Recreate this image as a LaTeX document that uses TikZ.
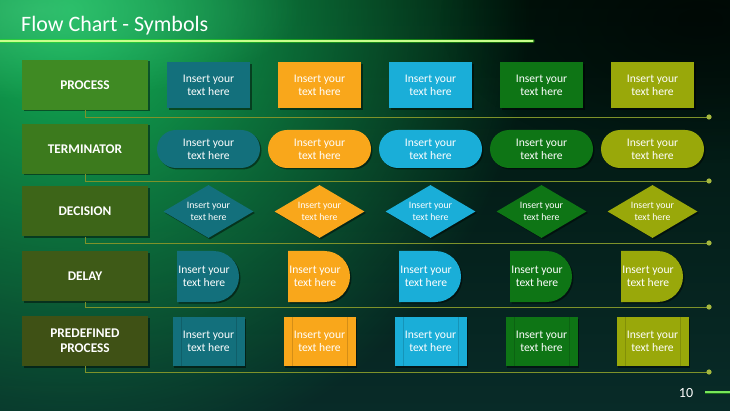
\documentclass[tikz,border=0pt]{standalone}
\usepackage{fontspec}
\setmainfont{Carlito}
\usetikzlibrary{shapes.geometric,shadows,fadings}
\definecolor{cTeal}{HTML}{13707C}
\definecolor{cOrange}{HTML}{F9A71B}
\definecolor{cCyan}{HTML}{1AAED8}
\definecolor{cGreen}{HTML}{0E7515}
\definecolor{cOlive}{HTML}{99A80A}
\definecolor{bgTop}{HTML}{00130B}
\definecolor{bgBot}{HTML}{082B28}
\definecolor{glowG}{HTML}{14B85A}
\definecolor{lineC}{HTML}{7E922A}
\definecolor{dotC}{HTML}{A6B83E}
\definecolor{lab1}{HTML}{3F8A23}
\definecolor{lab2}{HTML}{3C7A1D}
\definecolor{lab3}{HTML}{3D6518}
\definecolor{lab4}{HTML}{3E5A17}
\definecolor{lab5}{HTML}{3F5115}
\tikzfading[name=glowfade, inner color=transparent!0, outer color=transparent!100]
\begin{document}
\begin{tikzpicture}[x=1pt,y=-1pt,
  sh/.style={drop shadow={shadow xshift=1.5pt,shadow yshift=-1.5pt,opacity=0.45,fill=black}},
  txt/.style={text=white,align=center,font=\fontsize{11.6}{13.2}\selectfont,inner sep=0pt},
  labelbox/.style={minimum width=126pt,minimum height=50pt,inner sep=0pt,text=white,align=center,font=\bfseries\fontsize{13.3}{15}\selectfont,sh},
  procbox/.style={minimum width=83pt,minimum height=46pt,txt,sh},
  termbox/.style={minimum width=103pt,minimum height=38pt,rounded corners=19pt,txt,sh},
  decbox/.style={diamond,minimum width=90pt,minimum height=53pt,inner sep=0pt,sh},
  predbox/.style={minimum width=72pt,minimum height=49pt,txt,sh},
  conn/.style={draw=lineC,line width=0.9pt},
  dot/.style={fill=dotC}
]
\useasboundingbox (0,0) rectangle (730,411);
% background
\shade[top color=bgTop,bottom color=bgBot] (0,0) rectangle (730,411);
\begin{scope}
\clip (0,0) rectangle (730,411);
\fill[glowG,path fading=glowfade] (70,10) circle (460);
\fill[glowG!80!white,path fading=glowfade,opacity=0.6] (40,10) ellipse (260 and 90);
\fill[black,path fading=glowfade,opacity=0.55] (700,20) ellipse (260 and 140);
\end{scope}
% title
\node[anchor=base west,text=white,font=\fontsize{22}{26}\selectfont,inner sep=0pt] (title) at (21,32) {Flow Chart - Symbols};
\coordinate (tl0) at (0,41);
\coordinate (tl1) at (533,41);
\draw[green!70!lime,line width=3.5pt,opacity=0.35,line cap=round] (tl0) -- (tl1);
\draw[color={rgb,255:red,200;green,255;blue,140},line width=1.3pt,line cap=round] (tl0) -- (tl1);
% bottom right line and page number
\coordinate (bl0) at (705,392);
\coordinate (bl1) at (730,392);
\draw[green!60!lime,line width=3pt,opacity=0.3] (bl0) -- (bl1);
\draw[color={rgb,255:red,120;green,230;blue,90},line width=1.2pt] (bl0) -- (bl1);
\node[text=white,font=\fontsize{14}{16}\selectfont,inner sep=0pt] (pnum) at (686,393) {10};
% label boxes
\node[labelbox,fill=lab1] (lp) at (85,85) {PROCESS};
\node[labelbox,fill=lab2] (lt) at (85,149) {TERMINATOR};
\node[labelbox,fill=lab3] (ld) at (85,211.5) {DECISION};
\node[labelbox,fill=lab4] (ly) at (85,276.5) {DELAY};
\node[labelbox,fill=lab5] (lq) at (85,341) {PREDEFINED\\PROCESS};
% connectors
\foreach \n/\yy in {lp/117,lt/181,ld/243,ly/307,lq/372}{
  \coordinate (e\n) at (709,\yy);
  \draw[conn] (\n.south) |- (e\n);
  \fill[dot] (e\n) circle (2.6);
}
% symbols
\foreach \i/\cx/\col in {1/208.5/cTeal,2/319.5/cOrange,3/430.5/cCyan,4/541.5/cGreen,5/652.5/cOlive}{
  \node[procbox,fill=\col] (p\i) at (\cx,85.5) {Insert your\\text here};
  \node[termbox,fill=\col] (t\i) at (\cx,149) {Insert your\\text here};
  \node[decbox,fill=\col] (d\i) at (\cx,211.5) {};
  \node[txt,font=\fontsize{9.8}{11.5}\selectfont] (dt\i) at (d\i) {Insert your\\text here};
  \fill[\col,sh] (\cx-31.5,251) -- (\cx+5,251) .. controls (\cx+19.08,251) and (\cx+30.5,262.42) .. (\cx+30.5,276.5) .. controls (\cx+30.5,290.58) and (\cx+19.08,302) .. (\cx+5,302) -- (\cx-31.5,302) -- cycle;
  \node[txt] (y\i) at (\cx-4.5,276.5) {Insert your\\text here};
  \node[predbox,fill=\col] (q\i) at (\cx,341.5) {Insert your\\text here};
  \draw[\col!85!black,line width=0.5pt] ([xshift=8.5pt]q\i.north west) -- ([xshift=8.5pt]q\i.south west);
  \draw[\col!85!black,line width=0.5pt] ([xshift=-8.5pt]q\i.north east) -- ([xshift=-8.5pt]q\i.south east);
}
\end{tikzpicture}
\end{document}
